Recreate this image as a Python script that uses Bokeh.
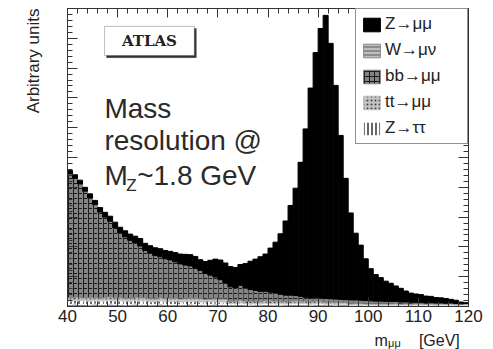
import math
from bokeh.plotting import figure
from bokeh.layouts import column
from bokeh.models import (ColumnDataSource, Range1d, LinearAxis, SingleIntervalTicker,
                          Legend, LegendItem, Label, BoxAnnotation, CustomJSTickFormatter, Title)
from bokeh.embed import file_html
from bokeh.resources import INLINE

# ---- data: 1 GeV bins from 40 to 120 GeV (lower edges) ----
bin_low = list(range(40, 120))

z_mumu = [
    0.11, 0.12, 0.13, 0.13, 0.14, 0.14, 0.15, 0.16, 0.17, 0.18,
    0.19, 0.20, 0.21, 0.23, 0.25, 0.24, 0.25, 0.26, 0.27, 0.28,
    0.29, 0.31, 0.33, 0.36, 0.38, 0.40, 0.36, 0.40, 0.50, 0.60,
    0.66, 0.68, 0.68, 0.68, 0.70, 0.82, 0.95, 1.05, 1.16, 1.25,
    1.48, 1.71, 2.03, 2.49, 3.01, 3.60, 4.50, 5.65, 7.05, 8.23,
    9.05, 9.50, 8.57, 7.17, 5.50, 4.07, 2.92, 2.24, 1.85, 1.40,
    1.08, 0.89, 0.79, 0.68, 0.61, 0.52, 0.46, 0.37, 0.31, 0.28,
    0.26, 0.23, 0.21, 0.18, 0.17, 0.16, 0.12, 0.11, 0.06, 0.03]

w_munu = [
    0.07, 0.08, 0.07, 0.07, 0.06, 0.08, 0.07, 0.07, 0.08, 0.07,
    0.07, 0.06, 0.07, 0.08, 0.07, 0.07, 0.06, 0.07, 0.08, 0.07,
    0.07, 0.07, 0.06, 0.07, 0.08, 0.07, 0.07, 0.06, 0.07, 0.08,
    0.07, 0.07, 0.06, 0.06, 0.07, 0.06, 0.05, 0.06, 0.06, 0.07,
    0.06, 0.06, 0.05, 0.06, 0.06, 0.07, 0.06, 0.06, 0.05, 0.06,
    0.06, 0.06, 0.06, 0.05, 0.06, 0.06, 0.04, 0.04, 0.05, 0.04,
    0.04, 0.04, 0.03, 0.04, 0.04, 0.05, 0.04, 0.04, 0.03, 0.04,
    0.04, 0.04, 0.04, 0.03, 0.04, 0.04, 0.04, 0.03, 0.04, 0.04]

bb_mumu = [
    4.16, 3.99, 3.81, 3.58, 3.35, 3.13, 2.89, 2.71, 2.54, 2.36,
    2.18, 2.06, 1.95, 1.83, 1.73, 1.59, 1.53, 1.45, 1.38, 1.33,
    1.28, 1.23, 1.18, 1.13, 1.08, 1.01, 0.95, 0.87, 0.80, 0.73,
    0.65, 0.53, 0.48, 0.45, 0.50, 0.44, 0.40, 0.37, 0.34, 0.32,
    0.29, 0.27, 0.24, 0.22, 0.20, 0.18, 0.16, 0.14, 0.12, 0.11,
    0.10, 0.13, 0.12, 0.11, 0.10, 0.09, 0.13, 0.12, 0.11, 0.11,
    0.10, 0.09, 0.09, 0.08, 0.08, 0.07, 0.07, 0.06, 0.06, 0.05,
    0.05, 0.04, 0.04, 0.04, 0.03, 0.03, 0.03, 0.02, 0.01, 0.01]

tt_mumu = [
    0.10, 0.11, 0.10, 0.10, 0.11, 0.10, 0.09, 0.10, 0.11, 0.10,
    0.10, 0.10, 0.09, 0.10, 0.11, 0.10, 0.10, 0.09, 0.10, 0.10,
    0.11, 0.10, 0.10, 0.09, 0.10, 0.10, 0.11, 0.10, 0.09, 0.10,
    0.10, 0.10, 0.08, 0.08, 0.09, 0.08, 0.08, 0.07, 0.08, 0.08,
    0.09, 0.08, 0.08, 0.07, 0.08, 0.08, 0.08, 0.07, 0.08, 0.08,
    0.08, 0.06, 0.06, 0.07, 0.06, 0.06, 0.04, 0.05, 0.04, 0.04,
    0.04, 0.04, 0.05, 0.04, 0.04, 0.04, 0.03, 0.04, 0.04, 0.04,
    0.04, 0.03, 0.04, 0.04, 0.04, 0.03, 0.04, 0.04, 0.03, 0.04]

z_tautau = [
    0.12, 0.12, 0.13, 0.12, 0.12, 0.11, 0.12, 0.12, 0.13, 0.12,
    0.12, 0.12, 0.11, 0.12, 0.12, 0.12, 0.10, 0.10, 0.11, 0.10,
    0.10, 0.10, 0.09, 0.10, 0.10, 0.10, 0.08, 0.08, 0.09, 0.08,
    0.08, 0.08, 0.04, 0.04, 0.05, 0.04, 0.04, 0.04, 0.03, 0.04,
    0.04, 0.04, 0.04, 0.03, 0.04, 0.04, 0.04, 0.04, 0.03, 0.04,
    0.04, 0.02, 0.02, 0.02, 0.02, 0.02, 0.01, 0.01, 0.01, 0.01,
    0.01, 0.01, 0.01, 0.01, 0.01, 0.01, 0.01, 0.01, 0.01, 0.01,
    0.01, 0.01, 0.01, 0.01, 0.01, 0.01, 0.01, 0.01, 0.01, 0.01]

legend_labels = ["Z\u2192\u03bc\u03bc", "W\u2192\u03bc\u03bd", "bb\u2192\u03bc\u03bc",
                 "tt\u2192\u03bc\u03bc", "Z\u2192\u03c4\u03c4"]

TXT = "#222222"
FONT = "Liberation Sans"

src = ColumnDataSource(dict(
    x=[b + 0.5 for b in bin_low],
    w=w_munu, ztt=z_tautau, tt=tt_mumu, bb=bb_mumu, zmm=z_mumu))

xr = Range1d(40, 120)
p = figure(width=493, height=330, x_range=xr, y_range=Range1d(0, 10),
           output_backend="svg", toolbar_location=None,
           min_border_left=66, min_border_right=25, min_border_top=8, min_border_bottom=24,
           background_fill_color="white", border_fill_color="white")
p.grid.visible = False
p.outline_line_color = "#333333"

fills = ["#8c8c8c", "#ffffff", "#c4c4c4", "#858585", "#000000"]
rs = p.vbar_stack(["w", "ztt", "tt", "bb", "zmm"], x="x", width=1.0, source=src,
                  fill_color=fills, line_color=fills, line_width=1,
                  hatch_pattern=["-", "|", ".", "+", " "],
                  hatch_color=["#f0f0f0", "#000000", "#404040", "#1a1a1a", "#000000"],
                  hatch_scale=[4, 4, 4, 5, 6], hatch_weight=[1, 1.2, 1, 1, 1])

# axes (ROOT style: ticks inward on all four sides)
def style_axis(ax, xaxis, labels):
    ax.ticker = SingleIntervalTicker(interval=10 if xaxis else 1, num_minor_ticks=5)
    ax.major_tick_in = 9 if xaxis else 10
    ax.major_tick_out = 0
    ax.minor_tick_in = 5
    ax.minor_tick_out = 0
    ax.axis_line_color = "#333333"
    ax.major_tick_line_color = "#333333"
    ax.minor_tick_line_color = "#333333"
    if labels:
        ax.major_label_text_font = FONT
        ax.major_label_text_font_size = "17px"
        ax.major_label_text_color = TXT
        ax.major_label_standoff = 3
    else:
        ax.formatter = CustomJSTickFormatter(code="return ''")
        ax.major_label_text_font_size = "0px"
        ax.major_label_standoff = 0

style_axis(p.xaxis[0], True, True)
style_axis(p.yaxis[0], False, False)
top_ax = LinearAxis()
style_axis(top_ax, True, False)
p.add_layout(top_ax, "above")
right_ax = LinearAxis()
style_axis(right_ax, False, False)
p.add_layout(right_ax, "right")

# y-axis title, aligned to the top as in ROOT
p.add_layout(Title(text="Arbitrary units", align="right", vertical_align="top",
                   standoff=46, text_font=FONT, text_font_size="17px",
                   text_font_style="normal", text_color=TXT), "left")

# ATLAS box with shadow
p.add_layout(BoxAnnotation(left=47.8, right=65.7, bottom=8.35, top=9.33,
                           fill_color="#333333", fill_alpha=1, line_color="#333333"))
p.add_layout(BoxAnnotation(left=47.4, right=65.3, bottom=8.42, top=9.40,
                           fill_color="white", fill_alpha=1, line_color="#222222", line_width=1))
p.add_layout(Label(x=56.35, y=8.91, text="ATLAS", text_font="DejaVu Serif",
                   text_font_style="bold", text_font_size="15px", text_color=TXT,
                   text_align="center", text_baseline="middle"))

# big annotation text (anchored at the middle of each line)
big = dict(text_font=FONT, text_font_size="28px", text_color="#2a2a2a",
           text_baseline="middle", text_align="left")
p.add_layout(Label(x=47.36, y=6.64, text="Mass", **big))
p.add_layout(Label(x=47.36, y=5.57, text="resolution @", **big))
p.add_layout(Label(x=47.36, y=4.40, text="M", **big))
p.add_layout(Label(x=51.7, y=4.05, text="Z", text_font=FONT, text_font_size="17px",
                   text_color="#2a2a2a", text_baseline="middle", text_align="left"))
p.add_layout(Label(x=53.9, y=4.40, text="~1.8 GeV", **big))

# legend with shadow
p.add_layout(BoxAnnotation(left=98.3, right=120.4, bottom=5.77, top=9.93,
                           fill_color="#333333", fill_alpha=1, line_color="#333333"))
order = [4, 0, 3, 2, 1]
items = [LegendItem(label=legend_labels[i], renderers=[rs[k]])
         for i, k in enumerate(order)]
legend = Legend(items=items, location="top_right", margin=0, padding=5, spacing=6,
                glyph_width=21, glyph_height=17, label_height=18, label_width=77,
                label_standoff=3, label_text_font=FONT, label_text_font_size="17px",
                label_text_color=TXT, border_line_color="#222222", border_line_width=1,
                background_fill_color="white", background_fill_alpha=1)
p.add_layout(legend)

# footer strip holding the x-axis title (m_mumu [GeV]), sharing the x range
footer = figure(frame_width=402, frame_height=19, x_range=xr, y_range=Range1d(0, 19),
                output_backend="svg", toolbar_location=None,
                x_axis_type=None, y_axis_type=None,
                min_border_left=66, min_border_right=25, min_border_top=0, min_border_bottom=0,
                background_fill_color="white", border_fill_color="white")
footer.title.visible = False
footer.outline_line_color = None
footer.add_layout(Label(x=101.1, y=9.5, text="m", text_font=FONT, text_font_size="16px",
                        text_color=TXT, text_align="left", text_baseline="middle"))
footer.add_layout(Label(x=103.8, y=6.4, text="\u03bc\u03bc", text_font=FONT, text_font_size="11px",
                        text_color=TXT, text_align="left", text_baseline="middle"))
footer.add_layout(Label(x=114.0, y=9.5, text="[GeV]", text_font=FONT, text_font_size="16px",
                        text_color=TXT, text_align="center", text_baseline="middle"))

layout = column(p, footer, spacing=0)
open("out.html", "w").write(file_html(layout, INLINE))
